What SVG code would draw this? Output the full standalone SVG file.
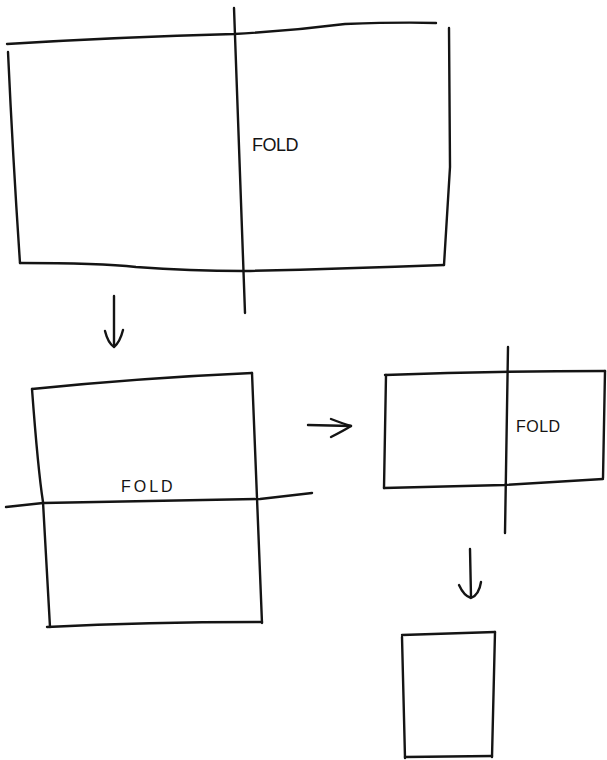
<svg xmlns="http://www.w3.org/2000/svg" width="607" height="760" viewBox="0 0 607 760">
<style>
.s{fill:none;stroke:#141414;stroke-width:2.4;stroke-linecap:round;stroke-linejoin:round}
.t{font-family:"Liberation Sans","DejaVu Sans",sans-serif;fill:#141414;font-weight:normal}
</style>
<rect width="607" height="760" fill="#ffffff"/>
<g id="sheet1">
<path class="s" d="M7,44 Q120,37 234,34 Q290,31 345,24 Q400,22 436,23"/>
<path class="s" d="M8,52 Q13,160 20,263"/>
<path class="s" d="M20,263 Q100,263 136,267 Q190,271 244,271 Q340,269 444,265"/>
<path class="s" d="M449,28 L450,167 L444,265"/>
<path class="s" d="M234,8 L245,313"/>
<text class="t" x="252" y="151" font-size="18" letter-spacing="-0.5">FOLD</text>
</g>
<g id="sheet2">
<path class="s" d="M32,389 Q140,378 252,373"/>
<path class="s" d="M32,389 Q38,470 43,502 L50,627"/>
<path class="s" d="M47,627 Q150,622 262,622"/>
<path class="s" d="M252,373 L262,623"/>
<path class="s" d="M6,507 L43,503 L260,499 L312,493"/>
<text class="t" x="121" y="492" font-size="16" letter-spacing="3">FOLD</text>
</g>
<g id="sheet3">
<path class="s" d="M385,375 Q495,371 605,371"/>
<path class="s" d="M605,371 L603,478"/>
<path class="s" d="M384,488 L504,485 L603,479"/>
<path class="s" d="M386,375 L384,488"/>
<path class="s" d="M508,347 L505,533"/>
<text class="t" x="516" y="432" font-size="16" letter-spacing="0.5">FOLD</text>
</g>
<g id="sheet4">
<path class="s" d="M402,635 L495,632"/>
<path class="s" d="M402,637 L405,758"/>
<path class="s" d="M495,632 L492,757"/>
<path class="s" d="M405,757 L492,756"/>
</g>
<g id="connectors">
<path class="s" d="M114,296 L114,346"/>
<path class="s" d="M105,331 Q108,343 114,347 Q120,342 123,330"/>
<path class="s" d="M308,425 L351,426"/>
<path class="s" d="M331,419 Q344,424 351,426 Q343,431 331,437"/>
<path class="s" d="M470,549 L471,597"/>
<path class="s" d="M459,585 Q464,596 471,598 Q479,595 481,582"/>
</g>
</svg>
